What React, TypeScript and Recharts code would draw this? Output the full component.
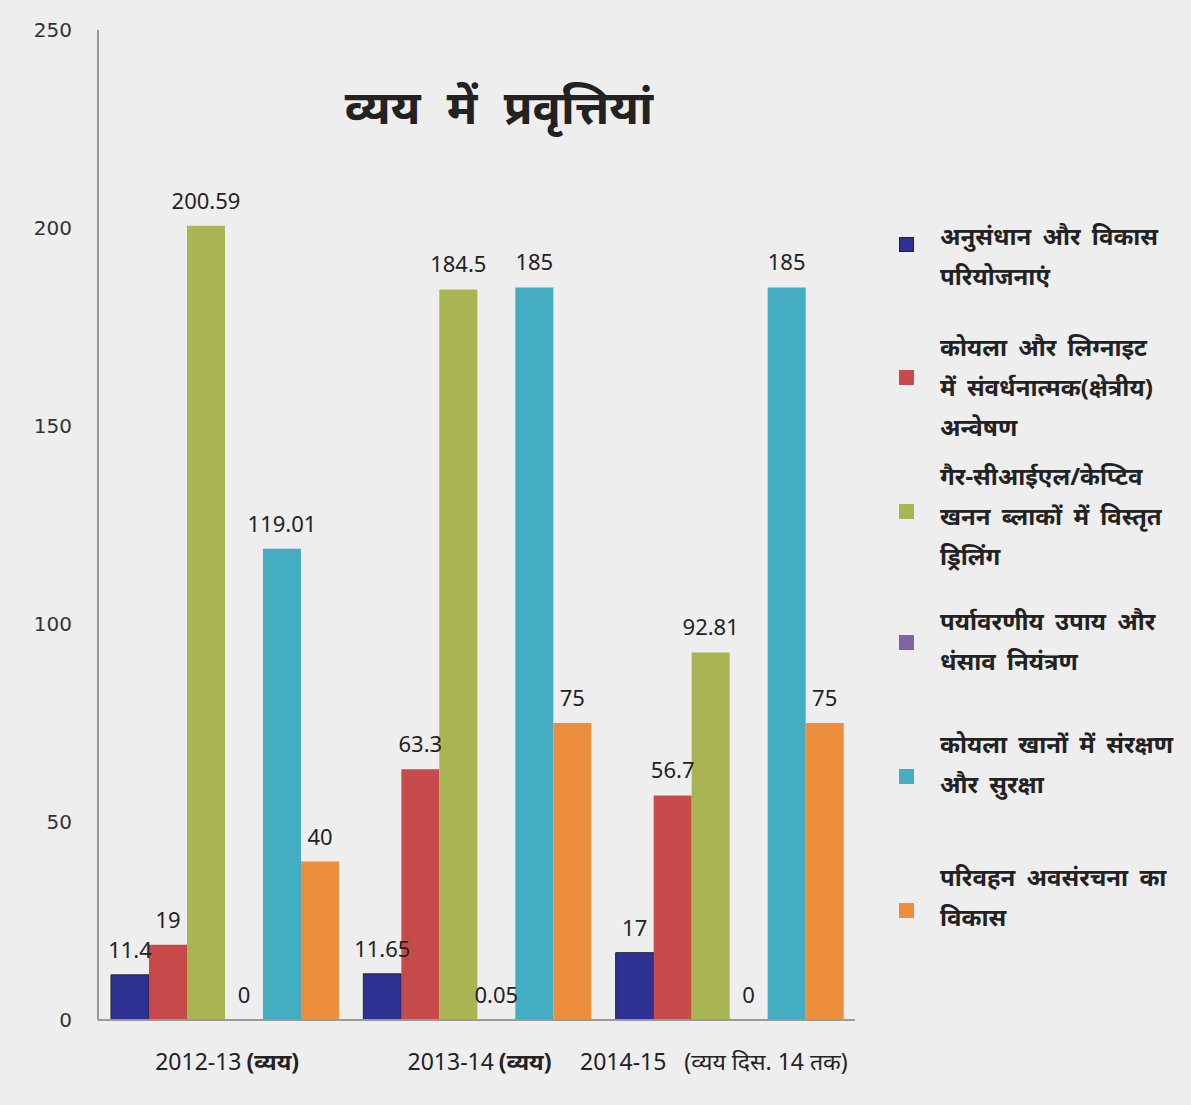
import React from 'react';
import { BarChart, Bar, XAxis, YAxis, LabelList } from 'recharts';

const categories = ['2012-13', '2013-14', '2014-15'];
const categoryNotes = ['(व्यय)', '(व्यय)', '(व्यय दिस. 14 तक)'];

const research = [11.4, 11.65, 17];
const promotional = [19, 63.3, 56.7];
const drilling = [200.59, 184.5, 92.81];
const environment = [0, 0.05, 0];
const safety = [119.01, 185, 185];
const infrastructure = [40, 75, 75];

const yTicks = [0, 50, 100, 150, 200, 250];

const seriesInfo = [
    { key: 'research', color: '#2E3192', lines: ['अनुसंधान और विकास', 'परियोजनाएं'] },
    { key: 'promotional', color: '#C84B4B', lines: ['कोयला और लिग्नाइट', 'में संवर्धनात्मक(क्षेत्रीय)', 'अन्वेषण'] },
    { key: 'drilling', color: '#A8B552', lines: ['गैर-सीआईएल/केप्टिव', 'खनन ब्लाकों में विस्तृत', 'ड्रिलिंग'] },
    { key: 'environment', color: '#8064A2', lines: ['पर्यावरणीय उपाय और', 'धंसाव नियंत्रण'] },
    { key: 'safety', color: '#45ADC2', lines: ['कोयला खानों में संरक्षण', 'और सुरक्षा'] },
    { key: 'infrastructure', color: '#EC8E3B', lines: ['परिवहन अवसंरचना का', 'विकास'] },
];

// legend block tops (px) for each entry, plus the square position
const legendTops = [216, 327, 456, 601, 724, 857];
const legendSquares = [237, 370, 504, 635, 769, 903];

const data = categories.map((name, i) => ({
    name,
    research: research[i],
    promotional: promotional[i],
    drilling: drilling[i],
    environment: environment[i],
    safety: safety[i],
    infrastructure: infrastructure[i],
}));

const XTick = (props: any) => {
    const { x, y, payload, index } = props;
    const note = categoryNotes[index];
    const last = index === 2;
    return (
        <text
            x={last ? x - 15 : x + 3}
            y={y + 42}
            textAnchor="middle"
            fill="#222"
            fontFamily="'Noto Sans', sans-serif"
            fontSize={23}
        >
            <tspan>{payload.value}</tspan>
            <tspan dx={last ? 18 : 5} fontWeight={last ? 'normal' : 'bold'}>
                {note}
            </tspan>
        </text>
    );
};

const ValueLabel = (props: any) => {
    const { x, y, width, value } = props;
    return (
        <text
            x={x + width / 2}
            y={y - 17}
            textAnchor="middle"
            fill="#222"
            fontSize={22}
            fontFamily="'Noto Sans', sans-serif"
        >
            {String(value)}
        </text>
    );
};

const App: React.FC = () => {
    return (
        <div style={{ position: 'relative', width: 1191, height: 1105, background: '#eeeeee' }}>
            <style>{`body { margin: 0; }`}</style>
            <BarChart
                width={1191}
                height={1105}
                data={data}
                margin={{ top: 30, right: 336, bottom: 0, left: 0 }}
                barCategoryGap={13}
                barGap={0}
            >
                <XAxis
                    dataKey="name"
                    height={85}
                    axisLine={{ stroke: '#999', strokeWidth: 2 }}
                    tickLine={false}
                    tick={<XTick />}
                    interval={0}
                />
                <YAxis
                    width={98}
                    domain={[0, 250]}
                    ticks={yTicks}
                    axisLine={{ stroke: '#999', strokeWidth: 2 }}
                    tickLine={false}
                    tickMargin={20}
                    tick={{ fill: '#333', fontSize: 20, fontFamily: "'DejaVu Sans', sans-serif" }}
                />
                {seriesInfo.map((s) => (
                    <Bar
                        key={s.key}
                        dataKey={s.key}
                        fill={s.color}
                        stroke={s.key === 'research' ? '#222' : 'none'}
                        strokeWidth={1}
                        minPointSize={0.01}
                        isAnimationActive={false}
                    >
                        <LabelList dataKey={s.key} content={<ValueLabel />} />
                    </Bar>
                ))}
            </BarChart>

            <div
                style={{
                    position: 'absolute',
                    left: 345,
                    top: 74,
                    fontSize: 47,
                    fontWeight: 'bold',
                    wordSpacing: 14,
                    color: '#222',
                    fontFamily: "'Noto Sans', sans-serif",
                    whiteSpace: 'nowrap',
                }}
            >
                व्यय में प्रवृत्तियां
            </div>

            {seriesInfo.map((s, i) => (
                <React.Fragment key={s.key}>
                    <div
                        style={{
                            position: 'absolute',
                            left: 899,
                            top: legendSquares[i],
                            width: 15,
                            height: 15,
                            background: s.color,
                            border: s.key === 'research' ? '1px solid #222' : 'none',
                            boxSizing: 'border-box',
                        }}
                    />
                    <div
                        style={{
                            position: 'absolute',
                            left: 940,
                            top: legendTops[i],
                            fontSize: 24,
                            lineHeight: '40px',
                            fontWeight: 'bold',
                            wordSpacing: 5,
                            color: '#222',
                            fontFamily: "'Noto Sans', sans-serif",
                            whiteSpace: 'nowrap',
                        }}
                    >
                        {s.lines.map((l, j) => (
                            <div key={j}>{l}</div>
                        ))}
                    </div>
                </React.Fragment>
            ))}
        </div>
    );
};

export default App;
